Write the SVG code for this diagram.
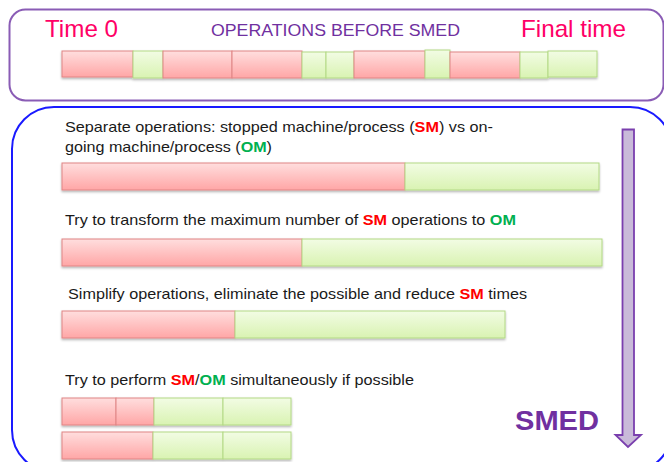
<svg xmlns="http://www.w3.org/2000/svg" width="664" height="462" viewBox="0 0 664 462">
  <defs>
    <linearGradient id="gRed" x1="0" y1="0" x2="0" y2="1">
      <stop offset="0" stop-color="#ffdede"/>
      <stop offset="1" stop-color="#ffa6a6"/>
    </linearGradient>
    <linearGradient id="gGreen" x1="0" y1="0" x2="0" y2="1">
      <stop offset="0" stop-color="#f2fce4"/>
      <stop offset="1" stop-color="#d9f3b2"/>
    </linearGradient>
    <filter id="shadow" x="-5%" y="-20%" width="110%" height="150%">
      <feDropShadow dx="0" dy="1.5" stdDeviation="1" flood-color="#000" flood-opacity="0.3"/>
    </filter>
  </defs>
  <style>
    .sm { fill: url(#gRed); stroke: #e08585; stroke-width: 1; }
    .om { fill: url(#gGreen); stroke: #b3d985; stroke-width: 1; }
    .bar { filter: url(#shadow); }
    .body { font-family: "Liberation Sans", Arial, sans-serif; font-size: 15px; fill: #1a1a1a; }
    .red { fill: #ff0000; font-weight: bold; }
    .grn { fill: #00b050; font-weight: bold; }
    .pink { font-family: "Liberation Sans", Arial, sans-serif; font-size: 24px; fill: #ff0066; }
  </style>

  <!-- Operations before SMED -->
  <g id="before">
    <rect x="9.5" y="9.5" width="654" height="91" rx="16" fill="#fff" stroke="#8a5cb5" stroke-width="2"/>
    <text class="pink" x="45" y="37" textLength="73" lengthAdjust="spacingAndGlyphs">Time 0</text>
    <text x="211" y="36" font-family="Liberation Sans, Arial, sans-serif" font-size="17" fill="#7030a0" textLength="249" lengthAdjust="spacingAndGlyphs">OPERATIONS BEFORE SMED</text>
    <text class="pink" x="521" y="37" textLength="105" lengthAdjust="spacingAndGlyphs">Final time</text>
    <g class="bar">
      <rect class="sm" x="62" y="51" width="71" height="26"/>
      <rect class="om" x="133" y="51" width="30" height="27"/>
      <rect class="sm" x="163" y="51" width="69" height="27"/>
      <rect class="sm" x="232" y="51" width="70" height="27"/>
      <rect class="om" x="302" y="52" width="24" height="26"/>
      <rect class="om" x="326" y="52" width="28" height="26"/>
      <rect class="sm" x="354" y="51" width="71" height="27"/>
      <rect class="om" x="425" y="50" width="25" height="28"/>
      <rect class="sm" x="450" y="52" width="70" height="26"/>
      <rect class="om" x="520" y="52" width="28" height="26"/>
      <rect class="om" x="548" y="51" width="49" height="26"/>
    </g>
  </g>

  <!-- SMED steps -->
  <g id="smed">
    <rect x="12" y="107" width="660" height="365" rx="42" fill="#fff" stroke="#1a1aff" stroke-width="2"/>

    <g id="step1">
      <text class="body" x="65" y="132" textLength="428" lengthAdjust="spacingAndGlyphs">Separate operations: stopped machine/process (<tspan class="red">SM</tspan>) vs on-</text>
      <text class="body" x="65" y="152" textLength="207" lengthAdjust="spacingAndGlyphs">going machine/process (<tspan class="grn">OM</tspan>)</text>
      <g class="bar">
        <rect class="sm" x="62" y="163" width="343" height="27"/>
        <rect class="om" x="405" y="163" width="194" height="27"/>
      </g>
    </g>

    <g id="step2">
      <text class="body" x="65" y="225" textLength="451" lengthAdjust="spacingAndGlyphs">Try to transform the maximum number of <tspan class="red">SM</tspan> operations to <tspan class="grn">OM</tspan></text>
      <g class="bar">
        <rect class="sm" x="62" y="239" width="240" height="27"/>
        <rect class="om" x="302" y="239" width="300" height="27"/>
      </g>
    </g>

    <g id="step3">
      <text class="body" x="68" y="299" textLength="459" lengthAdjust="spacingAndGlyphs">Simplify operations, eliminate the possible and reduce <tspan class="red">SM</tspan> times</text>
      <g class="bar">
        <rect class="sm" x="62" y="311" width="173" height="27"/>
        <rect class="om" x="235" y="311" width="270" height="27"/>
      </g>
    </g>

    <g id="step4">
      <text class="body" x="65" y="385" textLength="349" lengthAdjust="spacingAndGlyphs">Try to perform <tspan class="red">SM</tspan>/<tspan class="grn">OM</tspan> simultaneously if possible</text>
      <g class="bar">
        <rect class="sm" x="62" y="398" width="54" height="27"/>
        <rect class="sm" x="116" y="398" width="38" height="27"/>
        <rect class="om" x="154" y="398" width="69" height="27"/>
        <rect class="om" x="223" y="398" width="68" height="27"/>
        <rect class="sm" x="62" y="432" width="91" height="27"/>
        <rect class="om" x="153" y="432" width="70" height="27"/>
        <rect class="om" x="223" y="432" width="68" height="27"/>
      </g>
    </g>

    <text x="515" y="430" font-family="Liberation Sans, Arial, sans-serif" font-size="28" font-weight="bold" fill="#7030a0" textLength="84" lengthAdjust="spacingAndGlyphs">SMED</text>

    <!-- progression arrow -->
    <path d="M622.5 129.5 H634 V435 H641 L628 447 L615.5 435 H622.5 Z" fill="#c9bad9" stroke="#7a3fae" stroke-width="1.8" stroke-linejoin="miter"/>
  </g>
</svg>
